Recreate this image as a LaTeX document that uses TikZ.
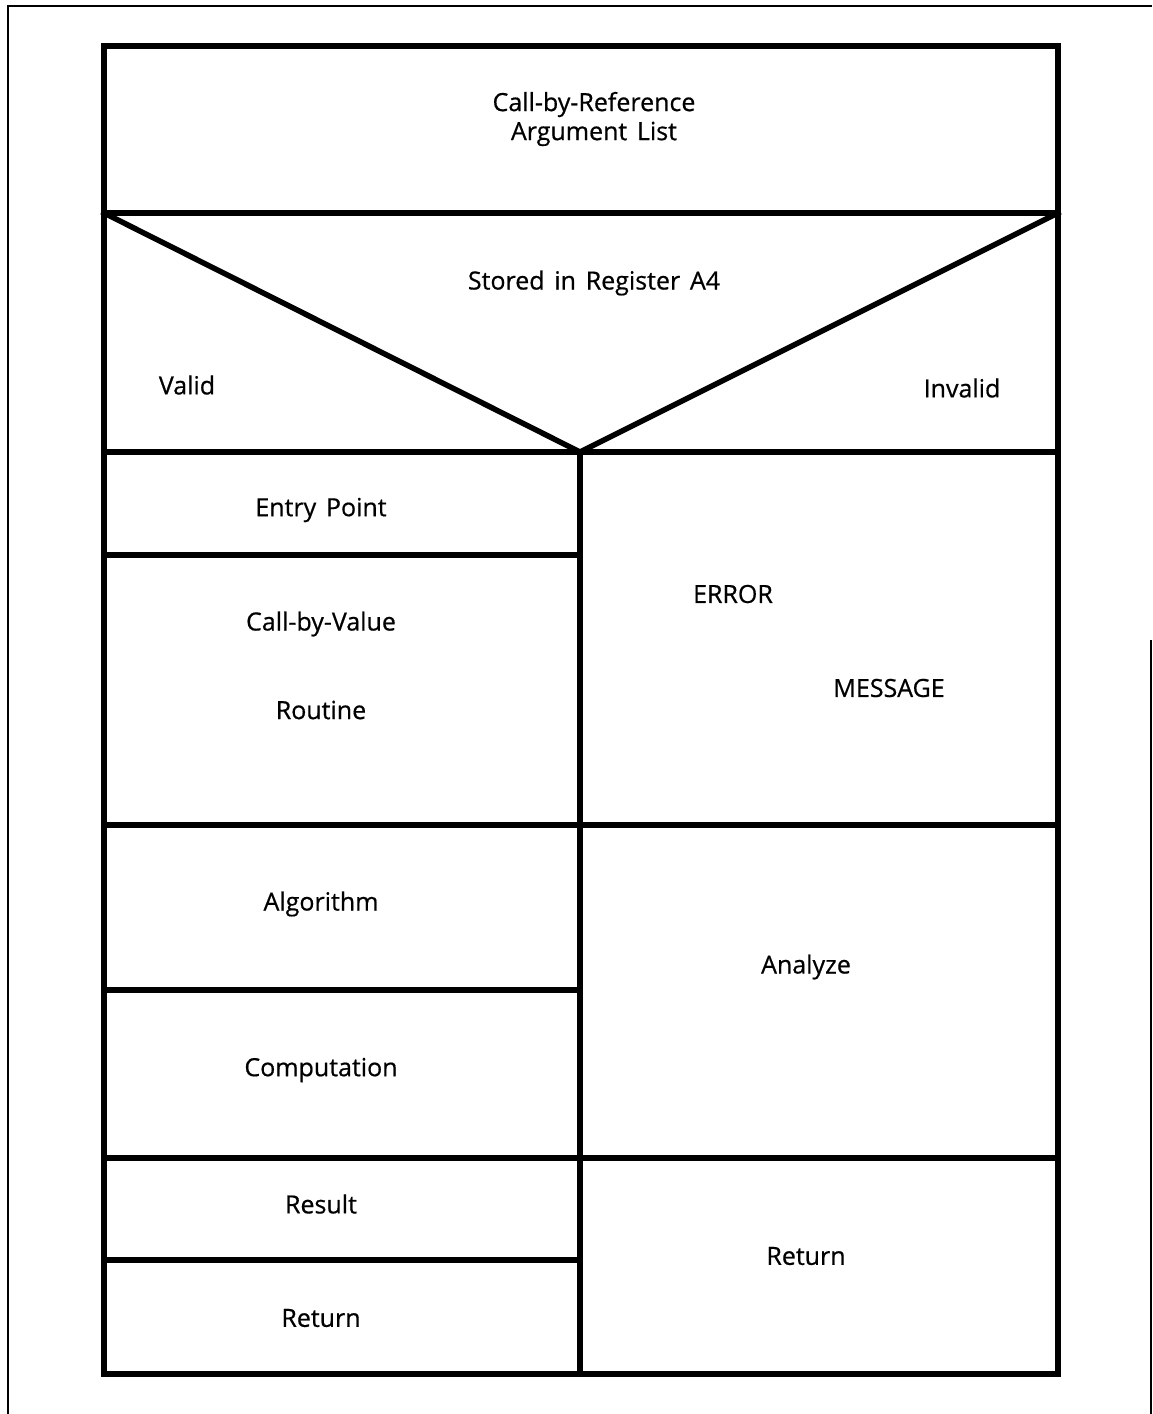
\documentclass[tikz,border=0pt]{standalone}
\usepackage{fontspec}
\setmainfont{Open Sans}[WordSpace=1.5,FakeBold=0.6]
\tikzset{
  frame/.style={line width=1.4pt},
  box/.style={line width=5.5pt, line cap=rect},
  lbl/.style={font=\fontsize{25}{29}\selectfont, inner sep=0pt, align=center}
}
\begin{document}
\begin{tikzpicture}[x=1pt,y=-1pt]
  \useasboundingbox (0,0) rectangle (1152,1414);
  % Thin page frame (open at the bottom)
  \draw[frame] (8,1414) -- (8,6) -- (1152,6);
  \draw[frame] (1151,640) -- (1151,1414);
  % Corners of the chart
  \coordinate (tl) at (104,46);
  \coordinate (br) at (1058,1374);
  \coordinate (tip) at (580,452);
  % Outer box
  \draw[box] (tl) rectangle (br);
  % Full width rules
  \foreach \y in {213,452,825,1158} {
    \draw[box] (104,\y) -- (1058,\y);
  }
  % Decision wedge
  \draw[box] (104,213) -- (tip) -- (1058,213);
  % Column divider
  \draw[box] (tip) -- (580,1374);
  % Left column rules
  \foreach \y in {555,990,1260} {
    \draw[box] (104,\y) -- (580,\y);
  }
  % Header
  \node[lbl] (head) at (594,119) {Call-by-Reference\\Argument List};
  \node[lbl] (cond) at (594,283) {Stored in Register A4};
  \node[lbl] (valid) at (187,385) {Valid};
  \node[lbl] (invalid) at (962,388) {Invalid};
  % Valid branch
  \node[lbl] (entry) at (321,510) {Entry Point};
  \node[lbl] (cbv) at (321,624) {Call-by-Value};
  \node[lbl] (routine) at (321,710) {Routine};
  \node[lbl] (algo) at (321,904) {Algorithm};
  \node[lbl] (comp) at (321,1070) {Computation};
  \node[lbl] (result) at (321,1204) {Result};
  \node[lbl] (retl) at (321,1318) {Return};
  % Invalid branch
  \node[lbl] (error) at (733,594) {ERROR};
  \node[lbl] (message) at (889,688) {MESSAGE};
  \node[lbl] (analyze) at (806,967) {Analyze};
  \node[lbl] (retr) at (806,1256) {Return};
\end{tikzpicture}
\end{document}
